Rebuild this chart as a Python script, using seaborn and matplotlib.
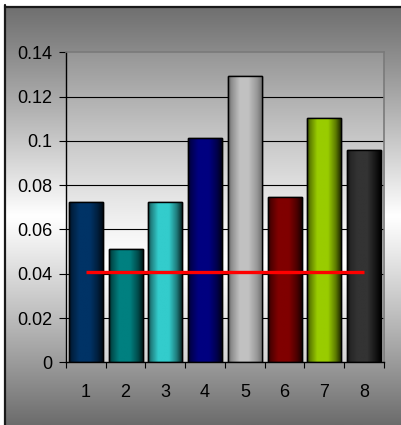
import numpy as np
import pandas as pd
import matplotlib
matplotlib.use("Agg")
import matplotlib.pyplot as plt
from matplotlib.patches import Rectangle
from matplotlib.colors import to_rgb
import seaborn as sns

# ---- data ----
categories = ["1", "2", "3", "4", "5", "6", "7", "8"]
values = [0.0723, 0.0510, 0.0723, 0.1013, 0.1294, 0.0745, 0.1103, 0.0957]
threshold = 0.0408
bar_colors = ["#003366", "#008080", "#33CCCC", "#000080",
              "#C0C0C0", "#800000", "#99CC00", "#333333"]
y_ticks = [0, 0.02, 0.04, 0.06, 0.08, 0.1, 0.12, 0.14]
y_tick_labels = ["0", "0.02", "0.04", "0.06", "0.08", "0.1", "0.12", "0.14"]

sns.set_theme(style="white")
plt.rcParams["font.family"] = ["Liberation Sans", "DejaVu Sans"]

W, H = 402, 425
fig = plt.figure(figsize=(W / 100, H / 100), dpi=100, facecolor="white")

# ---- chart-area background (gradient, frame top/left) ----
bg = fig.add_axes([5 / W, 0, (W - 5) / W, (H - 6) / H], zorder=-10)
ys = np.linspace(0, 1, 400)  # 0 = top
c = 0.50
vals = np.where(ys < c, 112 + (255 - 112) * (ys / c) ** 1.1,
                255 - (255 - 108) * ((ys - c) / (1 - c)) ** 1.1) / 255
grad = np.repeat(vals[:, None], 3, axis=1)[:, None, :]
bg.imshow(grad, aspect="auto", extent=[0, 1, 1, 0])
bg.set_xlim(0, 1); bg.set_ylim(1, 0)
bg.axis("off")
fig.add_artist(plt.Line2D([5.5 / W, 5.5 / W], [0, (H - 5) / H], color="#1a1a1a", lw=1.6))
fig.add_artist(plt.Line2D([5 / W, 1], [(H - 6.5) / H, (H - 6.5) / H], color="#1a1a1a", lw=1.6))

# ---- main axes ----
ax = fig.add_axes([66 / W, (H - 362.3) / H, 318 / W, 310 / H])
ax.set_facecolor("none")

df = pd.DataFrame({"cat": categories, "val": values})
sns.barplot(data=df, x="cat", y="val", hue="cat", palette=bar_colors,
            width=0.85, legend=False, ax=ax, edgecolor="black", linewidth=1.0,
            saturation=1)

ax.set_ylim(0, 0.14)
ax.set_xlim(-0.5, len(categories) - 0.5)

# plot-area gradient
fy = np.linspace(0, 1, 300)  # 0 = bottom
cpt = 0.32
pv = np.where(fy < cpt, 212 + (255 - 212) * (fy / cpt),
              255 - (255 - 150) * ((fy - cpt) / (1 - cpt)) ** 1.2) / 255
pgrad = np.repeat(pv[:, None], 3, axis=1)[::-1][:, None, :]
ax.imshow(pgrad, aspect="auto", extent=[0, 1, 0, 1], transform=ax.transAxes,
          zorder=0)
ax.set_ylim(0, 0.14)
ax.set_xlim(-0.5, len(categories) - 0.5)

# cylinder shading on bars
xs = np.linspace(0, 1, 200)
prof = np.interp(xs, [0, 0.08, 0.3, 0.62, 0.85, 1.0],
                 [0.25, 0.6, 1.0, 1.0, 0.6, 0.2])
for p, col in zip(ax.patches, bar_colors):
    rgb = np.array(to_rgb(col))
    if col.upper() == "#C0C0C0":
        base = np.interp(xs, [0, 0.1, 0.35, 0.6, 0.85, 1.0],
                         [0.35, 0.55, 0.76, 0.76, 0.6, 0.45])
        img = np.repeat(base[:, None], 3, axis=1)[None, :, :]
    elif col.upper() == "#333333":
        base = np.interp(xs, [0, 0.1, 0.3, 0.6, 0.85, 1.0],
                         [0.05, 0.15, 0.2, 0.2, 0.08, 0.0])
        img = np.repeat(base[:, None], 3, axis=1)[None, :, :]
    else:
        img = np.clip(prof[:, None] * rgb[None, :], 0, 1)[None, :, :]
    x0, y0 = p.get_x(), p.get_y()
    w, h = p.get_width(), p.get_height()
    im = ax.imshow(img, aspect="auto", extent=[x0, x0 + w, y0, y0 + h],
                   zorder=2.1, interpolation="bilinear")
    im.set_clip_path(p)
    ax.add_patch(Rectangle((x0, y0), w, h, fill=False, edgecolor="black",
                           linewidth=1.0, zorder=2.2))

ax.set_ylim(0, 0.14)
ax.set_xlim(-0.5, len(categories) - 0.5)

# threshold line
ax.plot([0, len(categories) - 1], [threshold, threshold], color="#FF0000",
        lw=2.4, zorder=3, solid_capstyle="butt")

# gridlines
for yv in y_ticks[1:-1]:
    ax.axhline(yv, color="black", lw=0.8, zorder=1)

# spines
for s in ["left", "bottom"]:
    ax.spines[s].set_color("black"); ax.spines[s].set_linewidth(1.0)
    ax.spines[s].set_visible(True)
for s in ["top", "right"]:
    ax.spines[s].set_color("#7a7a7a"); ax.spines[s].set_linewidth(1.2)
    ax.spines[s].set_visible(True)

ax.set_yticks(y_ticks)
ax.set_yticklabels(y_tick_labels)
ax.tick_params(axis="y", direction="out", length=5, width=0.8, color="black",
               pad=5, labelsize=13, labelcolor="black", left=True)
ax.set_xticks(range(len(categories)))
ax.set_xticklabels(categories)
ax.set_xticks(np.arange(-0.5, len(categories)), minor=True)
ax.tick_params(axis="x", which="major", length=0, pad=15.5, labelsize=13,
               labelcolor="black")
ax.tick_params(axis="x", which="minor", direction="out", length=4.5,
               width=0.8, color="black", bottom=True)
ax.set_xlabel(""); ax.set_ylabel("")
ax.grid(False)

fig.savefig("out.png", dpi=100, facecolor="white")
